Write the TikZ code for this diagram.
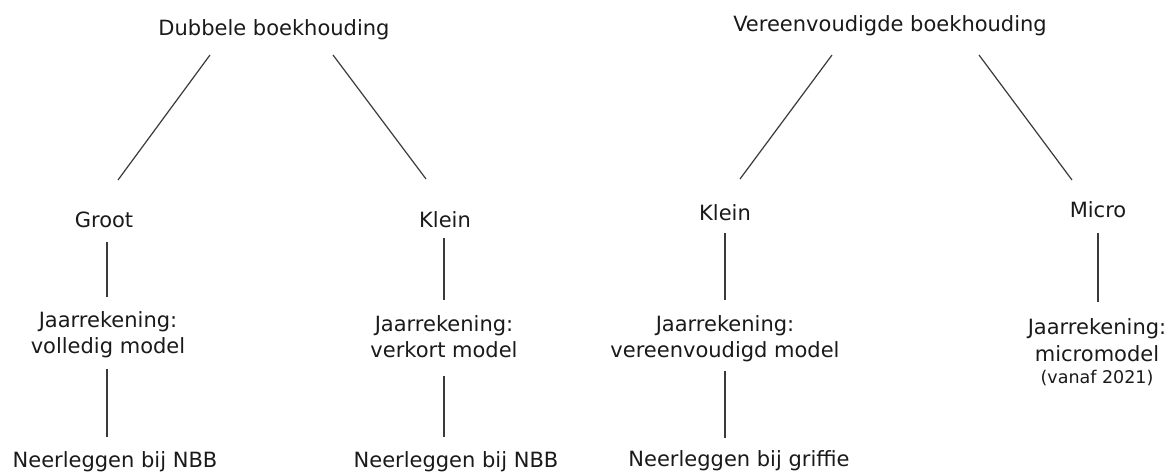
\documentclass[tikz,border=0pt]{standalone}
\usepackage{fontspec}
\setmainfont{DejaVu Sans}
\definecolor{txt}{HTML}{1A1A1A}
\definecolor{ln}{HTML}{3A3A3A}
\begin{document}
\begin{tikzpicture}[x=1pt,y=-1pt,
  lbl/.style={inner sep=0pt,anchor=base,font=\fontsize{21}{26}\selectfont,align=center,text=txt},
  conn/.style={draw=ln,line width=1.2pt}]
\useasboundingbox[fill=white] (0,0) rectangle (1170,473);
% top nodes
\node[lbl] (dub) at (274,36) {Dubbele boekhouding};
\node[lbl] (ver) at (890,32) {Vereenvoudigde boekhouding};
% second level
\node[lbl] (groot) at (104,228) {Groot};
\node[lbl] (klein1) at (445,228) {Klein};
\node[lbl] (klein2) at (725,221) {Klein};
\node[lbl] (micro) at (1098,218) {Micro};
% third level (anchor = baseline of last line)
\node[lbl] (jr1) at (108,353) {Jaarrekening:\\volledig model};
\node[lbl] (jr2) at (444,357) {Jaarrekening:\\verkort model};
\node[lbl] (jr3) at (725,357) {Jaarrekening:\\vereenvoudigd model};
\node[lbl] (jr4) at (1097,383) {Jaarrekening:\\[1pt]micromodel\\[-4pt]{\fontsize{17.5}{20}\selectfont (vanaf 2021)}};
% bottom
\node[lbl] (nb1) at (115,467) {Neerleggen bij NBB};
\node[lbl] (nb2) at (456,467) {Neerleggen bij NBB};
\node[lbl] (nb3) at (739,466) {Neerleggen bij griffie};
% connector end points
\coordinate (a1) at (210,55);  \coordinate (a2) at (118,180);
\coordinate (b1) at (333,55);  \coordinate (b2) at (426,179);
\coordinate (c1) at (832,55);  \coordinate (c2) at (740,179);
\coordinate (d1) at (979,55);  \coordinate (d2) at (1072,180);
\coordinate (g1) at (107,242); \coordinate (g2) at (107,297);
\coordinate (g3) at (107,369); \coordinate (g4) at (107,437);
\coordinate (k1) at (444,238); \coordinate (k2) at (444,300);
\coordinate (k3) at (444,376); \coordinate (k4) at (444,437);
\coordinate (v1) at (725,233); \coordinate (v2) at (725,300);
\coordinate (v3) at (725,371); \coordinate (v4) at (725,438);
\coordinate (m1) at (1098,233); \coordinate (m2) at (1098,302);
\draw[conn] (a1) -- (a2);
\draw[conn] (b1) -- (b2);
\draw[conn] (c1) -- (c2);
\draw[conn] (d1) -- (d2);
\draw[conn] (g1) -- (g2);
\draw[conn] (g3) -- (g4);
\draw[conn] (k1) -- (k2);
\draw[conn] (k3) -- (k4);
\draw[conn] (v1) -- (v2);
\draw[conn] (v3) -- (v4);
\draw[conn] (m1) -- (m2);
\end{tikzpicture}
\end{document}
